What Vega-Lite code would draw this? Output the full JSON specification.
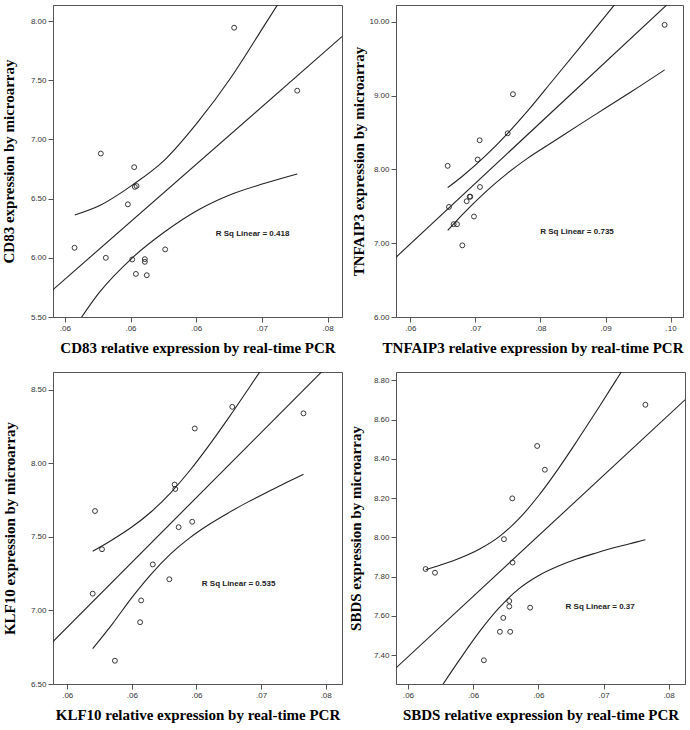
{
  "$schema": "https://vega.github.io/schema/vega-lite/v6.json",
  "padding": {"left": 0, "top": 4, "right": 0, "bottom": 0},
  "background": "white",
  "datasets": {
    "points": [
      {"panel": "CD83", "x": 0.06789, "y": 7.944},
      {"panel": "CD83", "x": 0.07269, "y": 7.412},
      {"panel": "CD83", "x": 0.05774, "y": 6.881},
      {"panel": "CD83", "x": 0.06028, "y": 6.766},
      {"panel": "CD83", "x": 0.06033, "y": 6.599},
      {"panel": "CD83", "x": 0.06046, "y": 6.607},
      {"panel": "CD83", "x": 0.0598, "y": 6.452},
      {"panel": "CD83", "x": 0.05574, "y": 6.085},
      {"panel": "CD83", "x": 0.05812, "y": 6.0},
      {"panel": "CD83", "x": 0.06013, "y": 5.986},
      {"panel": "CD83", "x": 0.06109, "y": 5.989},
      {"panel": "CD83", "x": 0.06109, "y": 5.966},
      {"panel": "CD83", "x": 0.06264, "y": 6.071},
      {"panel": "CD83", "x": 0.06041, "y": 5.864},
      {"panel": "CD83", "x": 0.06124, "y": 5.853},
      {"panel": "TNFAIP3", "x": 0.09908, "y": 9.96},
      {"panel": "TNFAIP3", "x": 0.07577, "y": 9.02},
      {"panel": "TNFAIP3", "x": 0.07496, "y": 8.49},
      {"panel": "TNFAIP3", "x": 0.07065, "y": 8.396},
      {"panel": "TNFAIP3", "x": 0.07035, "y": 8.135},
      {"panel": "TNFAIP3", "x": 0.06574, "y": 8.049},
      {"panel": "TNFAIP3", "x": 0.0707, "y": 7.762},
      {"panel": "TNFAIP3", "x": 0.06922, "y": 7.631},
      {"panel": "TNFAIP3", "x": 0.06912, "y": 7.63},
      {"panel": "TNFAIP3", "x": 0.06866, "y": 7.569},
      {"panel": "TNFAIP3", "x": 0.06594, "y": 7.492},
      {"panel": "TNFAIP3", "x": 0.06978, "y": 7.362},
      {"panel": "TNFAIP3", "x": 0.06666, "y": 7.258},
      {"panel": "TNFAIP3", "x": 0.06717, "y": 7.258},
      {"panel": "TNFAIP3", "x": 0.06799, "y": 6.971},
      {"panel": "KLF10", "x": 0.06777, "y": 8.384},
      {"panel": "KLF10", "x": 0.07328, "y": 8.34},
      {"panel": "KLF10", "x": 0.06487, "y": 8.237},
      {"panel": "KLF10", "x": 0.06331, "y": 7.856},
      {"panel": "KLF10", "x": 0.06336, "y": 7.826},
      {"panel": "KLF10", "x": 0.05715, "y": 7.676},
      {"panel": "KLF10", "x": 0.06467, "y": 7.603},
      {"panel": "KLF10", "x": 0.06362, "y": 7.566},
      {"panel": "KLF10", "x": 0.05769, "y": 7.416},
      {"panel": "KLF10", "x": 0.06162, "y": 7.313},
      {"panel": "KLF10", "x": 0.0629, "y": 7.212},
      {"panel": "KLF10", "x": 0.05697, "y": 7.114},
      {"panel": "KLF10", "x": 0.06072, "y": 7.068},
      {"panel": "KLF10", "x": 0.06064, "y": 6.92},
      {"panel": "KLF10", "x": 0.05869, "y": 6.658},
      {"panel": "SBDS", "x": 0.07321, "y": 8.676},
      {"panel": "SBDS", "x": 0.06491, "y": 8.466},
      {"panel": "SBDS", "x": 0.0655, "y": 8.345},
      {"panel": "SBDS", "x": 0.063, "y": 8.199},
      {"panel": "SBDS", "x": 0.06236, "y": 7.991},
      {"panel": "SBDS", "x": 0.05635, "y": 7.839},
      {"panel": "SBDS", "x": 0.05707, "y": 7.82},
      {"panel": "SBDS", "x": 0.06302, "y": 7.872},
      {"panel": "SBDS", "x": 0.06277, "y": 7.676},
      {"panel": "SBDS", "x": 0.06277, "y": 7.648},
      {"panel": "SBDS", "x": 0.06437, "y": 7.642},
      {"panel": "SBDS", "x": 0.06231, "y": 7.59},
      {"panel": "SBDS", "x": 0.06205, "y": 7.519},
      {"panel": "SBDS", "x": 0.06284, "y": 7.519},
      {"panel": "SBDS", "x": 0.06082, "y": 7.374}
    ],
    "lines": [
      {"panel": "CD83", "curve": "fit", "x": 0.0541, "y": 5.731},
      {"panel": "CD83", "curve": "fit", "x": 0.0761, "y": 7.869},
      {"panel": "CD83", "curve": "upper", "x": 0.05576, "y": 6.362},
      {"panel": "CD83", "curve": "upper", "x": 0.05766, "y": 6.442},
      {"panel": "CD83", "curve": "upper", "x": 0.06008, "y": 6.61},
      {"panel": "CD83", "curve": "upper", "x": 0.06261, "y": 6.828},
      {"panel": "CD83", "curve": "upper", "x": 0.06515, "y": 7.15},
      {"panel": "CD83", "curve": "upper", "x": 0.06769, "y": 7.53},
      {"panel": "CD83", "curve": "upper", "x": 0.07023, "y": 7.97},
      {"panel": "CD83", "curve": "upper", "x": 0.07269, "y": 8.4},
      {"panel": "CD83", "curve": "lower", "x": 0.05574, "y": 5.41},
      {"panel": "CD83", "curve": "lower", "x": 0.05766, "y": 5.712},
      {"panel": "CD83", "curve": "lower", "x": 0.06008, "y": 5.994},
      {"panel": "CD83", "curve": "lower", "x": 0.06261, "y": 6.22},
      {"panel": "CD83", "curve": "lower", "x": 0.06515, "y": 6.404},
      {"panel": "CD83", "curve": "lower", "x": 0.06769, "y": 6.537},
      {"panel": "CD83", "curve": "lower", "x": 0.07023, "y": 6.63},
      {"panel": "CD83", "curve": "lower", "x": 0.07269, "y": 6.709},
      {"panel": "TNFAIP3", "curve": "fit", "x": 0.0578, "y": 6.81},
      {"panel": "TNFAIP3", "curve": "fit", "x": 0.1019, "y": 10.435},
      {"panel": "TNFAIP3", "curve": "upper", "x": 0.06574, "y": 7.753},
      {"panel": "TNFAIP3", "curve": "upper", "x": 0.068, "y": 7.908},
      {"panel": "TNFAIP3", "curve": "upper", "x": 0.07145, "y": 8.177},
      {"panel": "TNFAIP3", "curve": "upper", "x": 0.075, "y": 8.494},
      {"panel": "TNFAIP3", "curve": "upper", "x": 0.078, "y": 8.79},
      {"panel": "TNFAIP3", "curve": "upper", "x": 0.082, "y": 9.219},
      {"panel": "TNFAIP3", "curve": "upper", "x": 0.086, "y": 9.648},
      {"panel": "TNFAIP3", "curve": "upper", "x": 0.09, "y": 10.082},
      {"panel": "TNFAIP3", "curve": "upper", "x": 0.094, "y": 10.516},
      {"panel": "TNFAIP3", "curve": "upper", "x": 0.09908, "y": 11.03},
      {"panel": "TNFAIP3", "curve": "lower", "x": 0.06574, "y": 7.173},
      {"panel": "TNFAIP3", "curve": "lower", "x": 0.068, "y": 7.388},
      {"panel": "TNFAIP3", "curve": "lower", "x": 0.07145, "y": 7.687},
      {"panel": "TNFAIP3", "curve": "lower", "x": 0.075, "y": 7.954},
      {"panel": "TNFAIP3", "curve": "lower", "x": 0.078, "y": 8.15},
      {"panel": "TNFAIP3", "curve": "lower", "x": 0.082, "y": 8.379},
      {"panel": "TNFAIP3", "curve": "lower", "x": 0.086, "y": 8.608},
      {"panel": "TNFAIP3", "curve": "lower", "x": 0.09, "y": 8.832},
      {"panel": "TNFAIP3", "curve": "lower", "x": 0.094, "y": 9.056},
      {"panel": "TNFAIP3", "curve": "lower", "x": 0.09908, "y": 9.35},
      {"panel": "KLF10", "curve": "fit", "x": 0.0539, "y": 6.789},
      {"panel": "KLF10", "curve": "fit", "x": 0.07626, "y": 8.761},
      {"panel": "KLF10", "curve": "upper", "x": 0.05697, "y": 7.402},
      {"panel": "KLF10", "curve": "upper", "x": 0.0585, "y": 7.481},
      {"panel": "KLF10", "curve": "upper", "x": 0.06, "y": 7.567},
      {"panel": "KLF10", "curve": "upper", "x": 0.0615, "y": 7.671},
      {"panel": "KLF10", "curve": "upper", "x": 0.063, "y": 7.8},
      {"panel": "KLF10", "curve": "upper", "x": 0.0645, "y": 7.953},
      {"panel": "KLF10", "curve": "upper", "x": 0.066, "y": 8.126},
      {"panel": "KLF10", "curve": "upper", "x": 0.0675, "y": 8.311},
      {"panel": "KLF10", "curve": "upper", "x": 0.069, "y": 8.504},
      {"panel": "KLF10", "curve": "upper", "x": 0.0705, "y": 8.7},
      {"panel": "KLF10", "curve": "upper", "x": 0.072, "y": 8.899},
      {"panel": "KLF10", "curve": "upper", "x": 0.07328, "y": 9.068},
      {"panel": "KLF10", "curve": "lower", "x": 0.05697, "y": 6.74},
      {"panel": "KLF10", "curve": "lower", "x": 0.0585, "y": 6.909},
      {"panel": "KLF10", "curve": "lower", "x": 0.06, "y": 7.087},
      {"panel": "KLF10", "curve": "lower", "x": 0.0615, "y": 7.247},
      {"panel": "KLF10", "curve": "lower", "x": 0.063, "y": 7.384},
      {"panel": "KLF10", "curve": "lower", "x": 0.0645, "y": 7.495},
      {"panel": "KLF10", "curve": "lower", "x": 0.066, "y": 7.586},
      {"panel": "KLF10", "curve": "lower", "x": 0.0675, "y": 7.665},
      {"panel": "KLF10", "curve": "lower", "x": 0.069, "y": 7.738},
      {"panel": "KLF10", "curve": "lower", "x": 0.0705, "y": 7.806},
      {"panel": "KLF10", "curve": "lower", "x": 0.072, "y": 7.871},
      {"panel": "KLF10", "curve": "lower", "x": 0.07328, "y": 7.926},
      {"panel": "SBDS", "curve": "fit", "x": 0.05408, "y": 7.335},
      {"panel": "SBDS", "curve": "fit", "x": 0.07625, "y": 8.701},
      {"panel": "SBDS", "curve": "upper", "x": 0.05635, "y": 7.835},
      {"panel": "SBDS", "curve": "upper", "x": 0.0575, "y": 7.859},
      {"panel": "SBDS", "curve": "upper", "x": 0.059, "y": 7.895},
      {"panel": "SBDS", "curve": "upper", "x": 0.0605, "y": 7.941},
      {"panel": "SBDS", "curve": "upper", "x": 0.062, "y": 8.004},
      {"panel": "SBDS", "curve": "upper", "x": 0.0635, "y": 8.094},
      {"panel": "SBDS", "curve": "upper", "x": 0.065, "y": 8.211},
      {"panel": "SBDS", "curve": "upper", "x": 0.0665, "y": 8.347},
      {"panel": "SBDS", "curve": "upper", "x": 0.068, "y": 8.495},
      {"panel": "SBDS", "curve": "upper", "x": 0.0695, "y": 8.648},
      {"panel": "SBDS", "curve": "upper", "x": 0.071, "y": 8.805},
      {"panel": "SBDS", "curve": "upper", "x": 0.0725, "y": 8.964},
      {"panel": "SBDS", "curve": "upper", "x": 0.07321, "y": 9.04},
      {"panel": "SBDS", "curve": "lower", "x": 0.05635, "y": 7.115},
      {"panel": "SBDS", "curve": "lower", "x": 0.0575, "y": 7.233},
      {"panel": "SBDS", "curve": "lower", "x": 0.059, "y": 7.381},
      {"panel": "SBDS", "curve": "lower", "x": 0.0605, "y": 7.521},
      {"panel": "SBDS", "curve": "lower", "x": 0.062, "y": 7.642},
      {"panel": "SBDS", "curve": "lower", "x": 0.0635, "y": 7.738},
      {"panel": "SBDS", "curve": "lower", "x": 0.065, "y": 7.805},
      {"panel": "SBDS", "curve": "lower", "x": 0.0665, "y": 7.853},
      {"panel": "SBDS", "curve": "lower", "x": 0.068, "y": 7.891},
      {"panel": "SBDS", "curve": "lower", "x": 0.0695, "y": 7.922},
      {"panel": "SBDS", "curve": "lower", "x": 0.071, "y": 7.951},
      {"panel": "SBDS", "curve": "lower", "x": 0.0725, "y": 7.976},
      {"panel": "SBDS", "curve": "lower", "x": 0.07321, "y": 7.988}
    ],
    "labels": [
      {"panel": "CD83", "x": 0.06929, "y": 6.203, "text": "R Sq Linear = 0.418"},
      {"panel": "TNFAIP3", "x": 0.08561, "y": 7.146, "text": "R Sq Linear = 0.735"},
      {"panel": "KLF10", "x": 0.06826, "y": 7.183, "text": "R Sq Linear = 0.535"},
      {"panel": "SBDS", "x": 0.06974, "y": 7.645, "text": "R Sq Linear = 0.37"}
    ]
  },
  "columns": 2,
  "bounds": "flush",
  "spacing": {"row": 55, "column": 54},
  "concat": [
    {
      "width": 289, "height": 312,
      "layer": [
        {
          "data": {"name": "lines"},
          "transform": [{"filter": "datum.panel === 'CD83'"}],
          "mark": {"type": "line", "clip": true, "interpolate": "monotone", "color": "#222", "strokeWidth": 1.1},
          "encoding": {
            "x": {"field": "x", "type": "quantitative", "scale": {"domain": [0.0541, 0.0761], "nice": false, "zero": false},
                  "axis": {"values": [0.055, 0.06, 0.065, 0.07, 0.075], "labelExpr": "datum.value < 0.0675 ? '.06' : datum.value < 0.0725 ? '.07' : '.08'"},
                  "title": "CD83 relative expression by real-time PCR"},
            "y": {"field": "y", "type": "quantitative", "scale": {"domain": [5.5, 8.136], "nice": false, "zero": false},
                  "axis": {"values": [5.5, 6, 6.5, 7, 7.5, 8], "format": ".2f", "titlePadding": 14},
                  "title": "CD83 expression by microarray"},
            "detail": {"field": "curve"}
          }
        },
        {
          "data": {"name": "points"},
          "transform": [{"filter": "datum.panel === 'CD83'"}],
          "mark": {"type": "point", "shape": "circle", "filled": false, "color": "#222", "size": 24, "strokeWidth": 0.9, "opacity": 1},
          "encoding": {"x": {"field": "x", "type": "quantitative"}, "y": {"field": "y", "type": "quantitative"}}
        },
        {
          "data": {"name": "labels"},
          "transform": [{"filter": "datum.panel === 'CD83'"}],
          "mark": {"type": "text", "font": "Liberation Sans", "fontSize": 8, "fontWeight": "bold", "color": "#222"},
          "encoding": {"x": {"field": "x", "type": "quantitative"}, "y": {"field": "y", "type": "quantitative"}, "text": {"field": "text"}}
        }
      ]
    },
    {
      "width": 287, "height": 312,
      "layer": [
        {
          "data": {"name": "lines"},
          "transform": [{"filter": "datum.panel === 'TNFAIP3'"}],
          "mark": {"type": "line", "clip": true, "interpolate": "monotone", "color": "#222", "strokeWidth": 1.1},
          "encoding": {
            "x": {"field": "x", "type": "quantitative", "scale": {"domain": [0.0578, 0.1019], "nice": false, "zero": false},
                  "axis": {"values": [0.06, 0.07, 0.08, 0.09, 0.1], "labelExpr": "replace(format(datum.value, '.2f'), '0.', '.')", "titleAnchor": "end"},
                  "title": "TNFAIP3 relative expression by real-time PCR"},
            "y": {"field": "y", "type": "quantitative", "scale": {"domain": [6.0, 10.229], "nice": false, "zero": false},
                  "axis": {"values": [6, 7, 8, 9, 10], "format": ".2f", "titlePadding": 2},
                  "title": "TNFAIP3 expression by microarray"},
            "detail": {"field": "curve"}
          }
        },
        {
          "data": {"name": "points"},
          "transform": [{"filter": "datum.panel === 'TNFAIP3'"}],
          "mark": {"type": "point", "shape": "circle", "filled": false, "color": "#222", "size": 24, "strokeWidth": 0.9, "opacity": 1},
          "encoding": {"x": {"field": "x", "type": "quantitative"}, "y": {"field": "y", "type": "quantitative"}}
        },
        {
          "data": {"name": "labels"},
          "transform": [{"filter": "datum.panel === 'TNFAIP3'"}],
          "mark": {"type": "text", "font": "Liberation Sans", "fontSize": 8, "fontWeight": "bold", "color": "#222"},
          "encoding": {"x": {"field": "x", "type": "quantitative"}, "y": {"field": "y", "type": "quantitative"}, "text": {"field": "text"}}
        }
      ]
    },
    {
      "width": 289, "height": 312,
      "layer": [
        {
          "data": {"name": "lines"},
          "transform": [{"filter": "datum.panel === 'KLF10'"}],
          "mark": {"type": "line", "clip": true, "interpolate": "monotone", "color": "#222", "strokeWidth": 1.1},
          "encoding": {
            "x": {"field": "x", "type": "quantitative", "scale": {"domain": [0.0539, 0.07626], "nice": false, "zero": false},
                  "axis": {"values": [0.055, 0.06, 0.065, 0.07, 0.075], "labelExpr": "datum.value < 0.0675 ? '.06' : datum.value < 0.0725 ? '.07' : '.08'"},
                  "title": "KLF10 relative expression by real-time PCR"},
            "y": {"field": "y", "type": "quantitative", "scale": {"domain": [6.5, 8.621], "nice": false, "zero": false},
                  "axis": {"values": [6.5, 7, 7.5, 8, 8.5], "format": ".2f", "titlePadding": 13},
                  "title": "KLF10 expression by microarray"},
            "detail": {"field": "curve"}
          }
        },
        {
          "data": {"name": "points"},
          "transform": [{"filter": "datum.panel === 'KLF10'"}],
          "mark": {"type": "point", "shape": "circle", "filled": false, "color": "#222", "size": 24, "strokeWidth": 0.9, "opacity": 1},
          "encoding": {"x": {"field": "x", "type": "quantitative"}, "y": {"field": "y", "type": "quantitative"}}
        },
        {
          "data": {"name": "labels"},
          "transform": [{"filter": "datum.panel === 'KLF10'"}],
          "mark": {"type": "text", "font": "Liberation Sans", "fontSize": 8, "fontWeight": "bold", "color": "#222"},
          "encoding": {"x": {"field": "x", "type": "quantitative"}, "y": {"field": "y", "type": "quantitative"}, "text": {"field": "text"}}
        }
      ]
    },
    {
      "width": 289, "height": 312,
      "layer": [
        {
          "data": {"name": "lines"},
          "transform": [{"filter": "datum.panel === 'SBDS'"}],
          "mark": {"type": "line", "clip": true, "interpolate": "monotone", "color": "#222", "strokeWidth": 1.1},
          "encoding": {
            "x": {"field": "x", "type": "quantitative", "scale": {"domain": [0.05408, 0.07625], "nice": false, "zero": false},
                  "axis": {"values": [0.055, 0.06, 0.065, 0.07, 0.075], "labelExpr": "datum.value < 0.0675 ? '.06' : datum.value < 0.0725 ? '.07' : '.08'"},
                  "title": "SBDS relative expression by real-time PCR"},
            "y": {"field": "y", "type": "quantitative", "scale": {"domain": [7.253, 8.843], "nice": false, "zero": false},
                  "axis": {"values": [7.4, 7.6, 7.8, 8.0, 8.2, 8.4, 8.6, 8.8], "format": ".2f", "titlePadding": 10},
                  "title": "SBDS expression by microarray"},
            "detail": {"field": "curve"}
          }
        },
        {
          "data": {"name": "points"},
          "transform": [{"filter": "datum.panel === 'SBDS'"}],
          "mark": {"type": "point", "shape": "circle", "filled": false, "color": "#222", "size": 24, "strokeWidth": 0.9, "opacity": 1},
          "encoding": {"x": {"field": "x", "type": "quantitative"}, "y": {"field": "y", "type": "quantitative"}}
        },
        {
          "data": {"name": "labels"},
          "transform": [{"filter": "datum.panel === 'SBDS'"}],
          "mark": {"type": "text", "font": "Liberation Sans", "fontSize": 8, "fontWeight": "bold", "color": "#222"},
          "encoding": {"x": {"field": "x", "type": "quantitative"}, "y": {"field": "y", "type": "quantitative"}, "text": {"field": "text"}}
        }
      ]
    }
  ],
  "config": {
    "view": {"stroke": "#555", "strokeWidth": 1},
    "axis": {
      "grid": false, "domainColor": "#555", "tickColor": "#555", "tickSize": 5,
      "labelFont": "Liberation Sans", "labelFontSize": 8, "labelColor": "#333", "labelPadding": 2,
      "titleFont": "Liberation Serif", "titleFontSize": 15, "titleFontWeight": "bold", "titleColor": "#000",
      "titlePadding": 8
    }
  }
}
